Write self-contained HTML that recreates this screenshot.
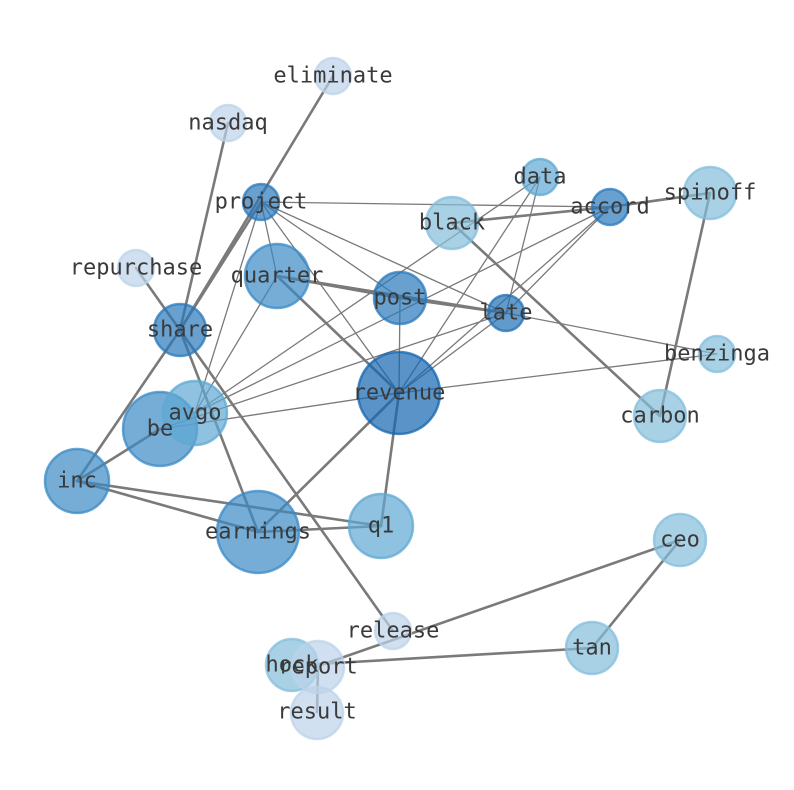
<!DOCTYPE html>
<html><head><meta charset="utf-8"><style>html,body{margin:0;padding:0;background:#fff}svg{display:block}</style></head><body>
<svg width="794" height="790" viewBox="0 0 794 790" xmlns="http://www.w3.org/2000/svg">
<g stroke="#7a7a7a" fill="none" stroke-linecap="round">
<g stroke-width="2.6">
<line x1="333" y1="76" x2="180" y2="330"/>
<line x1="228" y1="123" x2="180" y2="330"/>
<line x1="180" y1="330" x2="77" y2="481"/>
<line x1="261" y1="202" x2="180" y2="330"/>
<line x1="136" y1="268" x2="393" y2="631"/>
<line x1="180" y1="330" x2="258" y2="532"/>
<line x1="160" y1="429" x2="77" y2="481"/>
<line x1="77" y1="481" x2="381" y2="526"/>
<line x1="77" y1="481" x2="258" y2="532"/>
<line x1="258" y1="532" x2="381" y2="526"/>
<line x1="258" y1="532" x2="399" y2="393"/>
<line x1="399" y1="393" x2="381" y2="526"/>
<line x1="277" y1="276" x2="399" y2="393"/>
<line x1="277" y1="276" x2="400" y2="298"/>
<line x1="277" y1="276" x2="506" y2="313"/>
<line x1="400" y1="298" x2="506" y2="313"/>
<line x1="610" y1="207" x2="710" y2="193"/>
<line x1="610" y1="207" x2="452" y2="223"/>
<line x1="452" y1="223" x2="660" y2="416"/>
<line x1="710" y1="193" x2="660" y2="416"/>
<line x1="680" y1="540" x2="318" y2="666"/>
<line x1="680" y1="540" x2="592" y2="648"/>
<line x1="592" y1="648" x2="318" y2="664"/>
<line x1="318" y1="666" x2="317" y2="712"/>
</g>
<g stroke-width="1.3">
<line x1="261" y1="202" x2="610" y2="207"/>
<line x1="261" y1="202" x2="400" y2="298"/>
<line x1="261" y1="202" x2="506" y2="313"/>
<line x1="261" y1="202" x2="399" y2="393"/>
<line x1="261" y1="202" x2="277" y2="276"/>
<line x1="261" y1="202" x2="195" y2="413"/>
<line x1="506" y1="313" x2="717" y2="354"/>
<line x1="540" y1="177" x2="195" y2="413"/>
<line x1="540" y1="177" x2="399" y2="393"/>
<line x1="540" y1="177" x2="506" y2="313"/>
<line x1="610" y1="207" x2="506" y2="313"/>
<line x1="610" y1="207" x2="399" y2="393"/>
<line x1="610" y1="207" x2="195" y2="413"/>
<line x1="506" y1="313" x2="399" y2="393"/>
<line x1="506" y1="313" x2="160" y2="429"/>
<line x1="400" y1="298" x2="399" y2="393"/>
<line x1="399" y1="393" x2="717" y2="354"/>
<line x1="399" y1="393" x2="160" y2="429"/>
<line x1="277" y1="276" x2="195" y2="413"/>
</g>
</g>
<g stroke-width="2.5" fill-opacity="0.7" stroke-opacity="0.75">
<circle cx="333" cy="76" r="18" fill="#bcd3ea" stroke="#bcd3ea"/>
<circle cx="228" cy="123" r="18" fill="#bcd3ea" stroke="#bcd3ea"/>
<circle cx="261" cy="202" r="18" fill="#2878bb" stroke="#2878bb"/>
<circle cx="540" cy="177" r="18" fill="#5ea8d3" stroke="#5ea8d3"/>
<circle cx="610" cy="207" r="18" fill="#2878bb" stroke="#2878bb"/>
<circle cx="710" cy="193" r="26" fill="#84bddc" stroke="#84bddc"/>
<circle cx="452" cy="223" r="26" fill="#84bddc" stroke="#84bddc"/>
<circle cx="136" cy="268" r="18" fill="#bcd3ea" stroke="#bcd3ea"/>
<circle cx="277" cy="276" r="32" fill="#3a8ac6" stroke="#3a8ac6"/>
<circle cx="400" cy="298" r="26" fill="#2878bb" stroke="#2878bb"/>
<circle cx="506" cy="313" r="18" fill="#2070b5" stroke="#2070b5"/>
<circle cx="180" cy="330" r="26" fill="#2878bb" stroke="#2878bb"/>
<circle cx="717" cy="354" r="18" fill="#84bddc" stroke="#84bddc"/>
<circle cx="399" cy="393" r="41" fill="#1365b0" stroke="#1365b0"/>
<circle cx="160" cy="429" r="37" fill="#3a8ac6" stroke="#3a8ac6"/>
<circle cx="195" cy="413" r="32" fill="#5ea8d3" stroke="#5ea8d3"/>
<circle cx="660" cy="416" r="26" fill="#84bddc" stroke="#84bddc"/>
<circle cx="77" cy="481" r="32" fill="#3a8ac6" stroke="#3a8ac6"/>
<circle cx="381" cy="526" r="32" fill="#5ea8d3" stroke="#5ea8d3"/>
<circle cx="258" cy="532" r="41" fill="#3a8ac6" stroke="#3a8ac6"/>
<circle cx="680" cy="540" r="26" fill="#84bddc" stroke="#84bddc"/>
<circle cx="393" cy="631" r="18" fill="#bcd3ea" stroke="#bcd3ea"/>
<circle cx="592" cy="648" r="26" fill="#84bddc" stroke="#84bddc"/>
<circle cx="292" cy="665" r="26" fill="#84bddc" stroke="#84bddc"/>
<circle cx="318" cy="667" r="26" fill="#bcd3ea" stroke="#bcd3ea"/>
<circle cx="317" cy="713" r="26" fill="#bcd3ea" stroke="#bcd3ea"/>
</g>
<g font-family="DejaVu Sans Mono, Liberation Mono, monospace" font-size="22" fill="#3a3a3a" text-anchor="middle" dominant-baseline="central">
<text x="333" y="76">eliminate</text>
<text x="228" y="123">nasdaq</text>
<text x="261" y="202">project</text>
<text x="540" y="177">data</text>
<text x="610" y="207">accord</text>
<text x="710" y="193">spinoff</text>
<text x="452" y="223">black</text>
<text x="136" y="268">repurchase</text>
<text x="277" y="276">quarter</text>
<text x="400" y="298">post</text>
<text x="506" y="313">late</text>
<text x="180" y="330">share</text>
<text x="717" y="354">benzinga</text>
<text x="399" y="393">revenue</text>
<text x="160" y="429">be</text>
<text x="195" y="413">avgo</text>
<text x="660" y="416">carbon</text>
<text x="77" y="481">inc</text>
<text x="381" y="526">q1</text>
<text x="258" y="532">earnings</text>
<text x="680" y="540">ceo</text>
<text x="393" y="631">release</text>
<text x="592" y="648">tan</text>
<text x="292" y="665">hock</text>
<text x="318" y="667">report</text>
<text x="317" y="712">result</text>
</g>
</svg>
</body></html>
